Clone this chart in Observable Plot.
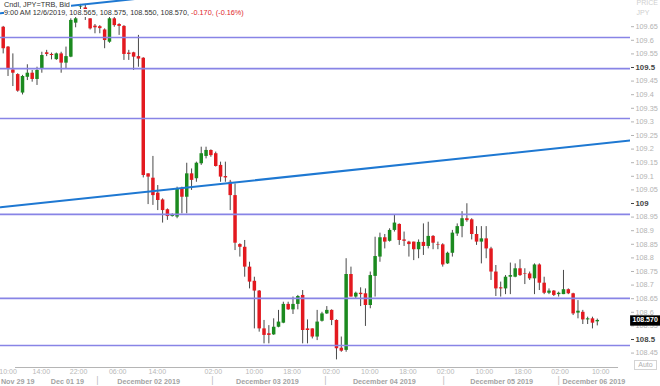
<!DOCTYPE html>
<html><head><meta charset="utf-8">
<script src="https://cdn.jsdelivr.net/npm/d3@7"></script>
<script src="https://cdn.jsdelivr.net/npm/@observablehq/plot@0.6"></script>
<style>
body{margin:0;background:#fff;}
#wrap{position:relative;width:660px;height:386px;overflow:hidden;font-family:"Liberation Sans",Arial,sans-serif;}
.hdr{position:absolute;left:4px;background:#fff;font-size:7.3px;line-height:8px;color:#333;white-space:nowrap;padding-right:1px;}
#auto{position:absolute;left:634px;top:360px;width:21px;height:8px;border:1px solid #d4d4d4;font-size:7px;line-height:8px;color:#b0b0b0;text-align:center;background:#fff;}
</style></head>
<body>
<div id="wrap">
<div id="chart"></div>
<div class="hdr" style="top:1px">Cndl, JPY=TRB, Bid</div>
<div class="hdr" style="top:9px">9:00 AM 12/6/2019, 108.565, 108.575, 108.550, 108.570, <span style="color:#e0262b">-0.170, (-0.16%)</span></div>
<div id="auto">Auto</div>
</div>
<script>
// Hourly candles (index 0..123)
const open = [109.648,109.575,109.491,109.474,109.406,109.464,109.479,109.456,109.495,109.554,
109.548,109.529,109.550,109.516,109.538,109.663,109.722,109.719,109.679,109.652,
109.650,109.638,109.593,109.679,109.658,109.651,109.553,109.554,109.540,109.534,
109.109,109.093,109.038,109.013,108.977,108.952,108.950,109.056,109.023,109.109,
109.091,109.146,109.173,109.195,109.183,109.140,109.099,109.078,109.029,108.849,
108.839,108.766,108.714,108.678,108.539,108.521,108.517,108.545,108.560,108.629,
108.609,108.629,108.662,108.539,108.539,108.509,108.567,108.594,108.607,108.570,
108.468,108.460,108.739,108.656,108.670,108.668,108.625,108.732,108.803,108.874,
108.861,108.901,108.923,108.866,108.858,108.858,108.830,108.857,108.842,108.879,
108.848,108.848,108.778,108.817,108.888,108.915,108.944,108.940,108.886,108.858,
108.870,108.833,108.748,108.690,108.686,108.729,108.729,108.760,108.741,108.741,
108.723,108.774,108.707,108.670,108.678,108.665,108.665,108.683,108.668,108.597,
108.600,108.572,108.576,108.565];
const high = [109.651,109.577,109.550,109.477,109.471,109.510,109.489,109.501,109.556,109.563,
109.553,109.553,109.556,109.575,109.679,109.685,109.732,109.732,109.679,109.658,
109.654,109.642,109.685,109.685,109.661,109.654,109.563,109.556,109.618,109.536,
109.109,109.173,109.066,109.017,108.980,108.962,109.060,109.060,109.148,109.127,
109.152,109.207,109.207,109.197,109.189,109.152,109.152,109.085,109.072,108.852,
108.864,108.784,108.729,108.680,108.570,108.551,108.576,108.607,108.637,108.637,
108.656,108.662,108.680,108.572,108.539,108.607,108.600,108.621,108.609,108.572,
108.509,108.797,108.766,108.674,108.690,108.686,108.748,108.876,108.891,108.886,
108.907,108.956,108.925,108.895,108.861,108.858,108.866,108.925,108.931,108.882,
108.858,108.852,108.821,108.901,108.925,108.970,108.999,108.944,108.915,108.915,
108.915,108.839,108.772,108.711,108.735,108.781,108.778,108.793,108.760,108.748,
108.778,108.778,108.729,108.686,108.680,108.674,108.754,108.686,108.670,108.643,
108.607,108.582,108.582,108.575];
const low = [109.550,109.467,109.430,109.409,109.399,109.452,109.446,109.434,109.479,109.540,
109.528,109.526,109.479,109.495,109.536,109.646,109.710,109.673,109.638,109.624,
109.624,109.569,109.589,109.648,109.618,109.526,109.526,109.489,109.501,109.094,
108.996,108.993,108.974,108.928,108.938,108.950,108.944,108.962,108.962,109.048,
109.078,109.140,109.164,109.170,109.134,109.078,109.078,108.974,108.827,108.803,
108.729,108.686,108.539,108.527,108.484,108.484,108.515,108.543,108.558,108.607,
108.592,108.609,108.484,108.484,108.502,108.496,108.564,108.592,108.551,108.425,
108.453,108.453,108.656,108.650,108.621,108.548,108.613,108.656,108.784,108.833,
108.858,108.895,108.846,108.842,108.803,108.790,108.797,108.809,108.833,108.830,
108.830,108.766,108.776,108.803,108.879,108.874,108.931,108.866,108.846,108.778,
108.797,108.717,108.658,108.656,108.665,108.665,108.727,108.732,108.702,108.717,
108.665,108.680,108.665,108.665,108.658,108.656,108.665,108.665,108.588,108.576,
108.555,108.555,108.539,108.550];
const close = [109.569,109.495,109.479,109.413,109.467,109.479,109.456,109.489,109.544,109.548,
109.544,109.550,109.516,109.540,109.673,109.679,109.724,109.691,109.642,109.646,
109.643,109.599,109.679,109.654,109.651,109.548,109.548,109.538,109.531,109.103,
109.097,109.029,109.011,108.974,108.952,108.956,109.054,109.023,109.109,109.085,
109.148,109.183,109.195,109.176,109.136,109.097,109.094,109.029,108.854,108.839,
108.766,108.711,108.678,108.539,108.515,108.515,108.545,108.564,108.629,108.609,
108.629,108.658,108.533,108.533,108.509,108.564,108.594,108.607,108.570,108.466,
108.457,108.739,108.656,108.670,108.665,108.625,108.735,108.805,108.874,108.858,
108.901,108.928,108.864,108.861,108.849,108.830,108.857,108.842,108.879,108.854,
108.846,108.774,108.817,108.891,108.915,108.944,108.937,108.886,108.858,108.870,
108.833,108.748,108.686,108.686,108.729,108.735,108.760,108.735,108.739,108.723,
108.774,108.707,108.670,108.678,108.662,108.670,108.683,108.668,108.594,108.604,
108.572,108.576,108.560,108.570];

// Horizontal support/resistance levels
const levels = [109.610,109.496,109.3125,108.960,108.651,108.478];
// Trend lines: [index, price] end points
const trendLow  = [[-0.56,108.986],[129.9,109.232]];
const trendHigh = [[-0.56,109.699],[30,109.757]];

// Right price axis
const yTicks = [108.45,108.5,108.55,108.6,108.65,108.7,108.75,108.8,108.85,108.9,108.95,109,
109.05,109.1,109.15,109.2,109.25,109.3,109.35,109.4,109.45,109.5,109.55,109.6,109.65];
const majorTicks = [108.5,109,109.5];
const lastPrice = 108.570;

// Bottom time axis (positions in candle index units)
const timeLabels = ["10:00","14:00","22:00","06:00","14:00","02:00","10:00","18:00","02:00","10:00","18:00","02:00","10:00","18:00","02:00","10:00"];
const timePos    = [1.0,7.9,15.6,23.7,31.9,43.5,52.0,59.8,67.9,75.9,83.8,91.6,99.6,107.6,115.3,123.7];
const dateLabels = ["Nov 29 19","Dec 01 19","December 02 2019","December 03 2019","December 04 2019","December 05 2019"];
const datePos    = [3.0,13.3,30.1,54.7,78.9,103.2];
const lastDate = "December 06 2019";
const lastDatePos = 115.8;
const dateSeps = [19.5,43.3,66.7,91.2,115.0];

const candles = open.map((o,i)=>({i, o, h:high[i], l:low[i], c:close[i], up: close[i] > o}));
const minor = yTicks.filter(t => !majorTicks.includes(t));
const tl = trendLow.map(([i,v])=>({i,v}));
const th = trendHigh.map(([i,v])=>({i,v}));
const timeData = timeLabels.map((t,k)=>({t, x: timePos[k]}));
const dateData = dateLabels.map((t,k)=>({t, x: datePos[k]}));

const chart = Plot.plot({
  width: 660, height: 386,
  marginLeft: 0, marginRight: 30, marginTop: 0, marginBottom: 20,
  style: {fontFamily: "Liberation Sans, Arial, sans-serif", background: "#fff", overflow: "visible"},
  x: {domain: [-0.559, 129.876], axis: null},
  y: {domain: [108.4007, 109.7463], axis: null},
  marks: [
    Plot.ruleX(candles, {x: "i", y1: "l", y2: "h", stroke: "#4a4a4a", strokeWidth: 1}),
    Plot.ruleX(candles, {x: "i", y1: "o", y2: "c", stroke: d => d.up ? "#1b8a1f" : "#e3191f", strokeWidth: 3.5}),
    Plot.ruleY(levels, {stroke: "#8884e6", strokeWidth: 1.6}),
    Plot.line(tl, {x: "i", y: "v", stroke: "#1e78d2", strokeWidth: 2, clip: true}),
    Plot.line(th, {x: "i", y: "v", stroke: "#1e78d2", strokeWidth: 2, clip: true}),
    // price axis on the right
    Plot.axisY(minor, {anchor: "right", tickSize: 3, tickPadding: 2, fontSize: 7.3, color: "#b3b3b3", tickFormat: d => String(d)}),
    Plot.axisY(majorTicks, {anchor: "right", tickSize: 3, tickPadding: 2, fontSize: 7.8, fontWeight: "bold", color: "#444", tickFormat: d => String(d)}),
    Plot.text(["PRICE"], {frameAnchor: "top-right", dx: 6, dy: 0, textAnchor: "start", fontSize: 7, fill: "#cfcfcf"}),
    Plot.text(["JPY"], {frameAnchor: "top-right", dx: 6, dy: 10, textAnchor: "start", fontSize: 7, fill: "#cfcfcf"}),
    // last price box
    Plot.rect([{x1: 129.9, x2: 137, y1: 108.549, y2: 108.587}], {x1: "x1", x2: "x2", y1: "y1", y2: "y2", fill: "#000", clip: false}),
    Plot.text([lastPrice], {y: d => d, frameAnchor: "right", dx: 2, dy: -0.5, textAnchor: "start", text: d => d.toFixed(3), fill: "#fff", fontSize: 7, fontWeight: "bold"}),
    // bottom axis
    Plot.ruleY([108.4007], {x1: 2.55, x2: 127.4, stroke: "#b5b5b5", strokeWidth: 1, dy: 1}),
    Plot.text(timeData, {x: "x", text: "t", frameAnchor: "bottom", dy: 7, fontSize: 7, fill: "#b8b8b8"}),
    Plot.text(dateData, {x: "x", text: "t", frameAnchor: "bottom", dy: 17, fontSize: 7.2, fontWeight: "bold", fill: "#a3a3a3"}),
    Plot.text([lastDate], {x: () => lastDatePos, frameAnchor: "bottom", dy: 17, textAnchor: "start", fontSize: 7.2, fontWeight: "bold", fill: "#a3a3a3"}),
    Plot.text(dateSeps, {x: d => d, text: () => "|", frameAnchor: "bottom", dy: 16, fontSize: 9, fill: "#bdbdbd"})
  ]
});
document.getElementById("chart").appendChild(chart);
</script>
</body></html>
